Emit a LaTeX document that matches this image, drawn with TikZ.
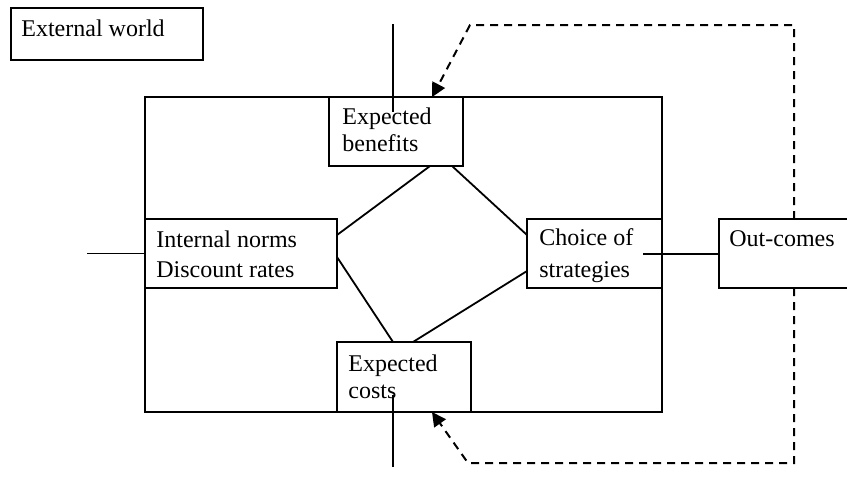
\documentclass[tikz,border=0pt]{standalone}
\usepackage{fontspec}
\setmainfont{Liberation Serif}
\usetikzlibrary{fit,calc,arrows.meta}
\begin{document}
\begin{tikzpicture}[x=0.5pt,y=-0.5pt,
  box/.style={draw, line width=0.9pt, inner sep=0pt, outer sep=0pt},
  txt/.style={inner sep=0pt, anchor=base west, font=\fontsize{12}{14}\selectfont},
  link/.style={line width=0.9pt},
  feedback/.style={line width=1pt, dash pattern=on 4pt off 3pt,
    -{Triangle[length=7pt,width=7pt]}}]
  \clip (0,0) rectangle (847,499);
  \useasboundingbox (0,0) rectangle (847,499);

  % corner points of the boxes
  \coordinate (ew1) at (11,8);    \coordinate (ew2) at (203,60);
  \coordinate (big1) at (145,97); \coordinate (big2) at (662,412);
  \coordinate (ben1) at (329,97); \coordinate (ben2) at (463,166);
  \coordinate (nor1) at (145,219);\coordinate (nor2) at (337,288);
  \coordinate (cho1) at (527,219);\coordinate (cho2) at (662,288);
  \coordinate (out1) at (719,219);\coordinate (out2) at (870,288);
  \coordinate (cos1) at (337,342);\coordinate (cos2) at (471,412);

  % boxes
  \node[box, fit=(ew1)(ew2)] (world) {};
  \node[box, fit=(big1)(big2)] (agent) {};
  \node[box, fill=white, fit=(ben1)(ben2)] (benefits) {};
  \node[box, fill=white, fit=(nor1)(nor2)] (norms) {};
  \node[box, fill=white, fit=(cho1)(cho2)] (choice) {};
  \node[box, fill=white, fit=(out1)(out2)] (outcomes) {};
  \node[box, fill=white, fit=(cos1)(cos2)] (costs) {};

  % labels
  \node[txt] (tworld) at (21,36) {External world};
  \node[txt] (tben1) at (342,124) {Expected};
  \node[txt] (tben2) at (342,151) {benefits};
  \node[txt] (tnor1) at (156,247) {Internal norms};
  \node[txt] (tnor2) at (156,277) {Discount rates};
  \node[txt] (tcho1) at (539,245) {Choice of};
  \node[txt] (tcho2) at (539,277) {strategies};
  \node[txt] (tout) at (729,246) {Out-comes};
  \node[txt] (tcos1) at (348,371) {Expected};
  \node[txt] (tcos2) at (348,398) {costs};

  % diamond of links between the inner boxes
  \draw[link] ($(benefits.south west)!0.754!(benefits.south east)$)
           -- ($(norms.north east)!0.232!(norms.south east)$);
  \draw[link] ($(benefits.south west)!0.918!(benefits.south east)$)
           -- ($(choice.north west)!0.232!(choice.south west)$);
  \draw[link] ($(norms.north east)!0.551!(norms.south east)$)
           -- ($(costs.north west)!0.418!(costs.north east)$);
  \draw[link] ($(costs.north west)!0.567!(costs.north east)$)
           -- ($(choice.north west)!0.754!(choice.south west)$);

  % inputs from outside and the link to the outcomes
  \coordinate (inTop) at (393,24);
  \coordinate (inTopEnd) at (393,112);
  \coordinate (inBot) at (393,467);
  \coordinate (inBotEnd) at (393,395);
  \coordinate (inLeft) at (87,253.5);
  \coordinate (choOut) at (643,254);
  \draw[link] (inTop) -- (inTopEnd);
  \draw[link] (inBot) -- (inBotEnd);
  \draw[link] (inLeft) -- (norms.west);
  \draw[link] (choOut) -- (choOut -| outcomes.west);

  % feedback loops from the outcomes
  \coordinate (fbTR) at (794,25);
  \coordinate (fbTL) at (470,25);
  \coordinate (fbBR) at (794,463);
  \coordinate (fbBL) at (468,463);
  \draw[feedback] (fbTR |- outcomes.north) -- (fbTR) -- (fbTL)
     -- ($(benefits.north west)!0.77!(benefits.north east)$);
  \draw[feedback] (fbBR |- outcomes.south) -- (fbBR) -- (fbBL)
     -- ($(costs.south west)!0.709!(costs.south east)$);
\end{tikzpicture}
\end{document}
